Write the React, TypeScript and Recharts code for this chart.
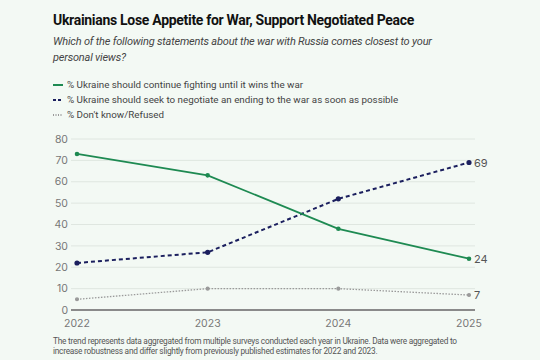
import { LineChart, Line, XAxis, YAxis, CartesianGrid } from "recharts";

const years = ["2022", "2023", "2024", "2025"];
const keepFighting = [73, 63, 38, 24];
const negotiate = [22, 27, 52, 69];
const dontKnow = [5, 10, 10, 7];
const yTicks = [0, 10, 20, 30, 40, 50, 60, 70, 80];

const GREEN = "#1e8a52";
const NAVY = "#1b1f5e";
const GRAY = "#9a9a9a";

const data = years.map((year, i) => ({
  year,
  fight: keepFighting[i],
  negotiate: negotiate[i],
  dk: dontKnow[i],
}));

const font = "Roboto, Inter, sans-serif";
const tickFont = "Inter, Roboto, sans-serif";

// only the last point gets a value label
const endLabel = (props: any) => {
  const { x, y, index, value } = props;
  if (index !== data.length - 1) return null;
  return (
    <text x={x + 5} y={y} dy={4} fontSize={11} fill="#555" fontFamily={tickFont}>
      {value}
    </text>
  );
};

function LegendRow({ dash, color, label }: { dash?: string; color: string; label: string }) {
  return (
    <div style={{ display: "flex", alignItems: "center", height: 15 }}>
      <svg width={11} height={4} style={{ marginRight: 3 }}>
        <line x1={0} y1={2} x2={10} y2={2} stroke={color} strokeWidth={2} strokeDasharray={dash} />
      </svg>
      <span>{label}</span>
    </div>
  );
}

export default function App() {
  return (
    <div
      style={{
        position: "absolute",
        left: 0,
        top: 0,
        width: 540,
        height: 360,
        background: "#f3f9f4",
        fontFamily: font,
        overflow: "hidden",
      }}
    >
      <div style={{ position: "absolute", left: 53, top: 12, fontSize: 14, fontWeight: 700, color: "#111", letterSpacing: -0.3, whiteSpace: "nowrap" }}>
        Ukrainians Lose Appetite for War, Support Negotiated Peace
      </div>
      <div
        style={{
          position: "absolute",
          left: 53,
          top: 34,
          fontSize: 11,
          lineHeight: "16px",
          fontStyle: "italic",
          color: "#444",
          letterSpacing: -0.2,
          whiteSpace: "nowrap",
        }}
      >
        Which of the following statements about the war with Russia comes closest to your
        <br />
        personal views?
      </div>
      <div style={{ position: "absolute", left: 53, top: 77, fontSize: 9.8, color: "#444" }}>
        <LegendRow color={GREEN} label="% Ukraine should continue fighting until it wins the war" />
        <LegendRow color={NAVY} dash="3 2" label="% Ukraine should seek to negotiate an ending to the war as soon as possible" />
        <LegendRow color={GRAY} dash="1 1.5" label="% Don't know/Refused" />
      </div>

      <div style={{ position: "absolute", left: 0, top: 0 }}>
        <LineChart width={540} height={340} data={data} margin={{ top: 139, right: 65, bottom: 10, left: 0 }}>
          <CartesianGrid vertical={false} stroke="#dfe6e0" />
          <XAxis
            dataKey="year"
            padding={{ left: 6, right: 6 }}
            tickLine={false}
            axisLine={{ stroke: "#8a8a8a", strokeWidth: 2 }}
            tick={{ fontSize: 10.5, fill: "#777", fontFamily: tickFont }}
            tickMargin={4}
            height={20}
            interval={0}
          />
          <YAxis
            domain={[0, 80]}
            ticks={yTicks}
            width={71}
            tickLine={false}
            axisLine={false}
            tick={{ fontSize: 10.5, fill: "#777", fontFamily: tickFont }}
            tickMargin={3}
            tickSize={0}
            interval={0}
          />
          <Line
            dataKey="dk"
            stroke={GRAY}
            strokeWidth={1.3}
            strokeDasharray="1.5 1.5"
            dot={{ r: 1.4, fill: GRAY, stroke: GRAY, strokeDasharray: "0" }}
            label={endLabel}
            isAnimationActive={false}
          />
          <Line
            dataKey="negotiate"
            stroke={NAVY}
            strokeWidth={2}
            strokeDasharray="4 3"
            dot={{ r: 1.6, fill: NAVY, stroke: NAVY, strokeDasharray: "0" }}
            label={endLabel}
            isAnimationActive={false}
          />
          <Line
            dataKey="fight"
            stroke={GREEN}
            strokeWidth={1.8}
            dot={{ r: 1.4, fill: GREEN, stroke: GREEN }}
            label={endLabel}
            isAnimationActive={false}
          />
        </LineChart>
      </div>

      <div
        style={{
          position: "absolute",
          left: 53,
          top: 337,
          fontSize: 8.3,
          lineHeight: "9.5px",
          color: "#555",
          letterSpacing: -0.25,
          whiteSpace: "nowrap",
        }}
      >
        The trend represents data aggregated from multiple surveys conducted each year in Ukraine. Data were aggregated to
        <br />
        increase robustness and differ slightly from previously published estimates for 2022 and 2023.
      </div>
    </div>
  );
}
